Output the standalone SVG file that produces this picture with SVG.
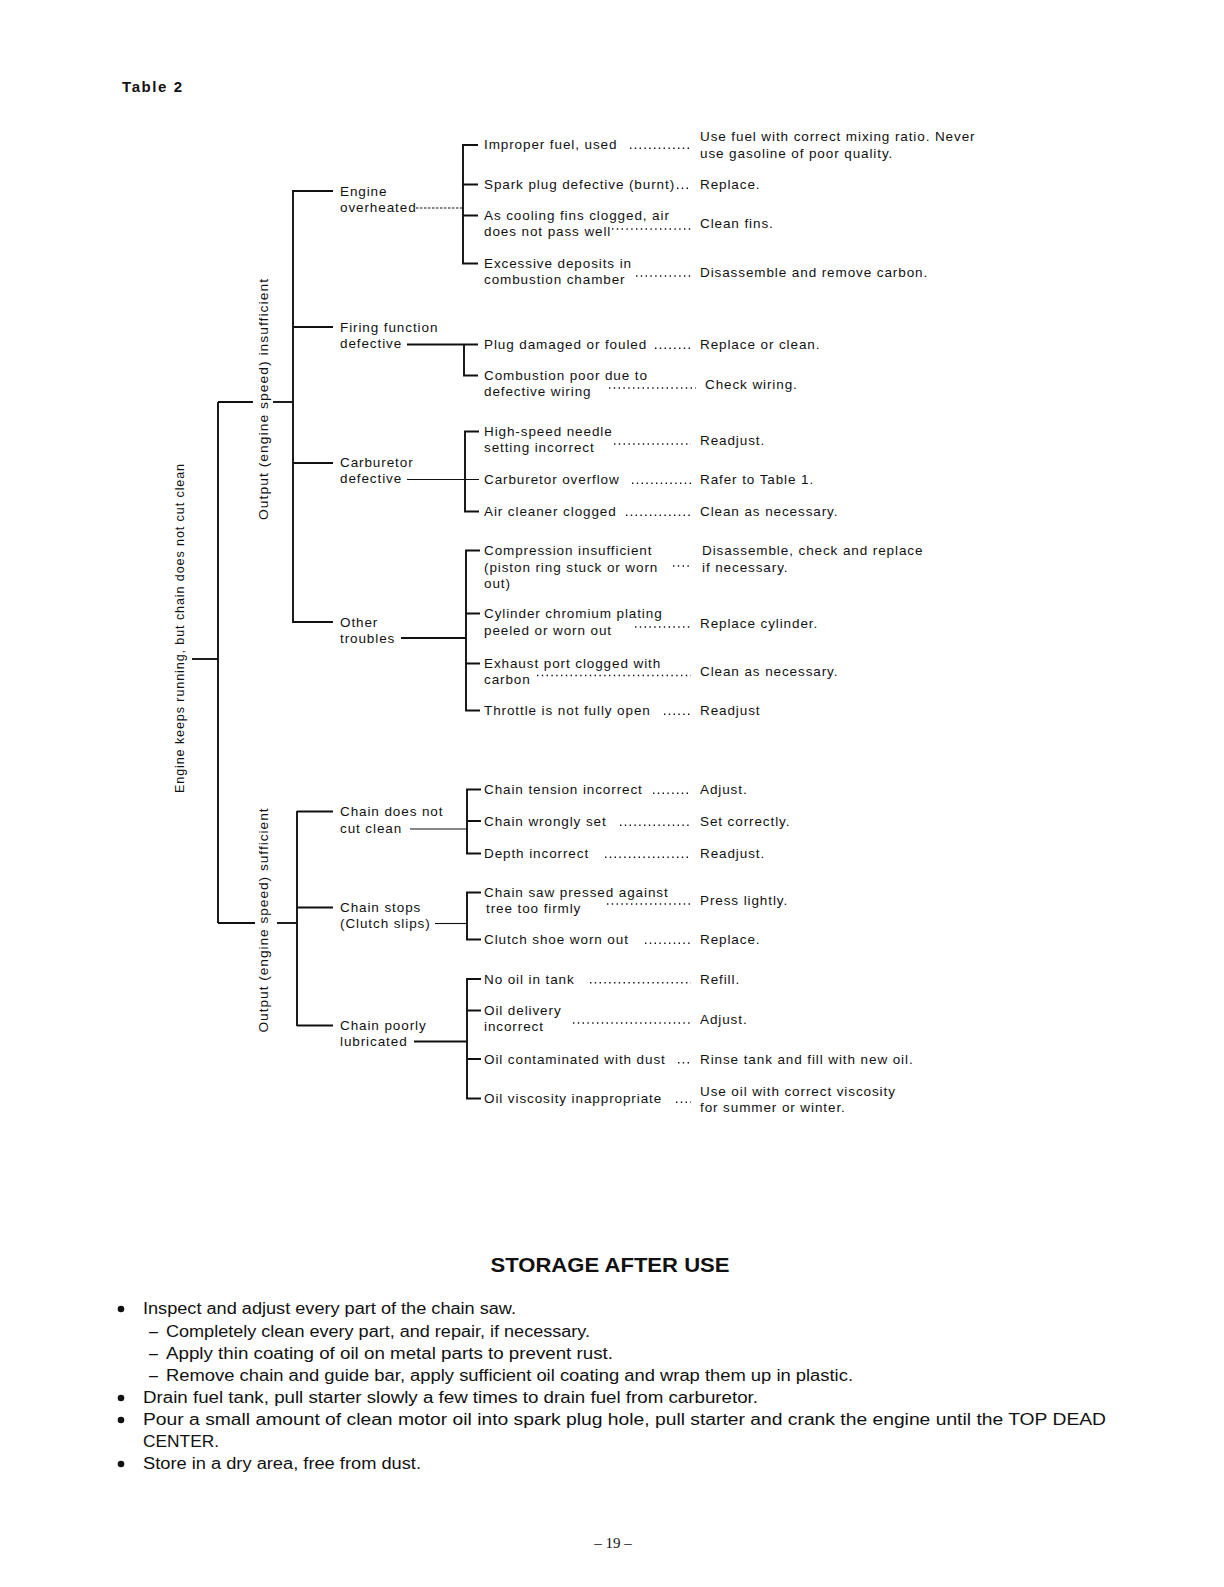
<svg xmlns="http://www.w3.org/2000/svg" width="1224" height="1587" viewBox="0 0 1224 1587">
<style>
.t{font-family:"Liberation Sans",Arial,sans-serif;font-size:13.5px;letter-spacing:0.9px;fill:#111}
.r{font-family:"Liberation Sans",Arial,sans-serif;font-size:13.5px;letter-spacing:1px;fill:#111}
.s{font-family:"Liberation Sans",Arial,sans-serif;font-size:16px;fill:#111}
.h{font-family:"Liberation Sans",Arial,sans-serif;font-size:20px;font-weight:bold;fill:#111}
.ln{stroke:#111;stroke-width:1.9;fill:none}
.th{stroke:#111;stroke-width:1.1;fill:none}
.ds{stroke:#111;stroke-width:1.1;fill:none;stroke-dasharray:2.5 1.5}
.ld{stroke:#111;stroke-width:1.5;fill:none;stroke-dasharray:1.4 3.4}
</style>
<rect width="1224" height="1587" fill="#fff"/>
<text x="122" y="92" font-family="Liberation Sans,Arial,sans-serif" font-size="15" font-weight="bold" fill="#111" textLength="60">Table 2</text>

<g id="connectors">
<line class="ln" x1="192" y1="659" x2="218" y2="659"/>
<line class="ln" x1="218" y1="402" x2="218" y2="923"/>
<line class="ln" x1="218" y1="402" x2="253" y2="402"/>
<line class="ln" x1="273" y1="402" x2="293" y2="402"/>
<line class="ln" x1="218" y1="923" x2="255" y2="923"/>
<line class="ln" x1="277" y1="923" x2="297" y2="923"/>
<line class="ln" x1="293" y1="190" x2="293" y2="623"/>
<line class="ln" x1="293" y1="191" x2="333" y2="191"/>
<line class="ln" x1="293" y1="327" x2="333" y2="327"/>
<line class="ln" x1="293" y1="463" x2="333" y2="463"/>
<line class="ln" x1="293" y1="622" x2="333" y2="622"/>
<line class="ln" x1="297" y1="811" x2="297" y2="1026"/>
<line class="ln" x1="297" y1="811.5" x2="333" y2="811.5"/>
<line class="ln" x1="297" y1="907.5" x2="333" y2="907.5"/>
<line class="ln" x1="297" y1="1025.5" x2="333" y2="1025.5"/>
<line class="ds" x1="416" y1="208" x2="463" y2="208"/>
<line class="ln" x1="407" y1="344.5" x2="478" y2="344.5"/>
<line class="th" x1="407" y1="479.5" x2="479" y2="479.5"/>
<line class="ln" x1="401" y1="638" x2="466" y2="638"/>
<line class="th" x1="410" y1="829" x2="467" y2="829"/>
<line class="th" x1="435" y1="923.5" x2="467" y2="923.5"/>
<line class="ln" x1="414" y1="1041.5" x2="467" y2="1041.5"/>
<path class="ln" d="M478,145 H463 V263.5 H478 M463,184.5 H478 M463,215.5 H478"/>
<path class="ln" d="M464,344.5 V375.5 H478"/>
<path class="ln" d="M479,431.5 H465 V511.5 H479"/>
<path class="ln" d="M480,550.5 H466 V710.5 H480 M466,613.5 H480 M466,663.5 H480"/>
<path class="ln" d="M481,789.5 H467 V853.5 H481 M467,821 H481"/>
<path class="ln" d="M481,892.5 H467 V939.5 H481"/>
<path class="ln" d="M481,979 H467 V1098.5 H481 M467,1010.5 H481 M467,1059 H481"/>
</g>

<g id="leaders">
<line class="ld" x1="630" y1="148.3" x2="691" y2="148.3"/>
<line class="ld" x1="677" y1="188.3" x2="691" y2="188.3"/>
<line class="ld" x1="612" y1="229" x2="691" y2="229"/>
<line class="ld" x1="636" y1="276" x2="691" y2="276"/>
<line class="ld" x1="655" y1="348.3" x2="691" y2="348.3"/>
<line class="ld" x1="609" y1="388" x2="696" y2="388"/>
<line class="ld" x1="614" y1="444" x2="691" y2="444"/>
<line class="ld" x1="632" y1="483.3" x2="691" y2="483.3"/>
<line class="ld" x1="626" y1="515.3" x2="691" y2="515.3"/>
<line class="ld" x1="673" y1="566" x2="691" y2="566"/>
<line class="ld" x1="635" y1="627" x2="691" y2="627"/>
<line class="ld" x1="537" y1="675.5" x2="691" y2="675.5"/>
<line class="ld" x1="664" y1="714.3" x2="691" y2="714.3"/>
<line class="ld" x1="653" y1="793.3" x2="691" y2="793.3"/>
<line class="ld" x1="620" y1="825.3" x2="691" y2="825.3"/>
<line class="ld" x1="605" y1="857.3" x2="691" y2="857.3"/>
<line class="ld" x1="607" y1="904" x2="691" y2="904"/>
<line class="ld" x1="645" y1="943.3" x2="691" y2="943.3"/>
<line class="ld" x1="590" y1="982.8" x2="691" y2="982.8"/>
<line class="ld" x1="573" y1="1023" x2="691" y2="1023"/>
<line class="ld" x1="678" y1="1062.8" x2="691" y2="1062.8"/>
<line class="ld" x1="676" y1="1102.3" x2="691" y2="1102.3"/>
</g>

<g id="root">
<text class="r" transform="translate(183.5,628) rotate(-90)" text-anchor="middle" textLength="330" lengthAdjust="spacingAndGlyphs">Engine keeps running, but chain does not cut clean</text>
</g>
<g id="output-insufficient">
<text class="r" transform="translate(268,399) rotate(-90)" text-anchor="middle" textLength="242" lengthAdjust="spacingAndGlyphs">Output (engine speed) insufficient</text>
</g>
<g id="output-sufficient">
<text class="r" transform="translate(268,920) rotate(-90)" text-anchor="middle" textLength="225" lengthAdjust="spacingAndGlyphs">Output (engine speed) sufficient</text>
</g>

<g id="engine-overheated"><text class="t" x="340" y="196">Engine</text><text class="t" x="340" y="212">overheated</text></g>
<g id="firing-defective"><text class="t" x="340" y="331.5">Firing function</text><text class="t" x="340" y="348">defective</text></g>
<g id="carburetor-defective"><text class="t" x="340" y="467">Carburetor</text><text class="t" x="340" y="483">defective</text></g>
<g id="other-troubles"><text class="t" x="340" y="627">Other</text><text class="t" x="340" y="643">troubles</text></g>
<g id="chain-not-cut"><text class="t" x="340" y="816">Chain does not</text><text class="t" x="340" y="833">cut clean</text></g>
<g id="chain-stops"><text class="t" x="340" y="912">Chain stops</text><text class="t" x="340" y="928">(Clutch slips)</text></g>
<g id="chain-poorly"><text class="t" x="340" y="1030">Chain poorly</text><text class="t" x="340" y="1046">lubricated</text></g>

<g id="i1"><text class="t" x="484" y="149">Improper fuel, used</text><text class="t" x="700" y="141">Use fuel with correct mixing ratio. Never</text><text class="t" x="700" y="158">use gasoline of poor quality.</text></g>
<g id="i2"><text class="t" x="484" y="189">Spark plug defective (burnt)</text><text class="t" x="700" y="189">Replace.</text></g>
<g id="i3"><text class="t" x="484" y="220">As cooling fins clogged, air</text><text class="t" x="484" y="236">does not pass well</text><text class="t" x="700" y="228">Clean fins.</text></g>
<g id="i4"><text class="t" x="484" y="268">Excessive deposits in</text><text class="t" x="484" y="284">combustion chamber</text><text class="t" x="700" y="277">Disassemble and remove carbon.</text></g>
<g id="i5"><text class="t" x="484" y="349">Plug damaged or fouled</text><text class="t" x="700" y="349">Replace or clean.</text></g>
<g id="i6"><text class="t" x="484" y="380">Combustion poor due to</text><text class="t" x="484" y="396">defective wiring</text><text class="t" x="705" y="389">Check wiring.</text></g>
<g id="i7"><text class="t" x="484" y="436">High-speed needle</text><text class="t" x="484" y="452">setting incorrect</text><text class="t" x="700" y="445">Readjust.</text></g>
<g id="i8"><text class="t" x="484" y="484">Carburetor overflow</text><text class="t" x="700" y="484">Rafer to Table 1.</text></g>
<g id="i9"><text class="t" x="484" y="516">Air cleaner clogged</text><text class="t" x="700" y="516">Clean as necessary.</text></g>
<g id="i10"><text class="t" x="484" y="555">Compression insufficient</text><text class="t" x="484" y="571.5">(piston ring stuck or worn</text><text class="t" x="484" y="588">out)</text><text class="t" x="702" y="555">Disassemble, check and replace</text><text class="t" x="702" y="571.5">if necessary.</text></g>
<g id="i11"><text class="t" x="484" y="618">Cylinder chromium plating</text><text class="t" x="484" y="635">peeled or worn out</text><text class="t" x="700" y="628">Replace cylinder.</text></g>
<g id="i12"><text class="t" x="484" y="668">Exhaust port clogged with</text><text class="t" x="484" y="684">carbon</text><text class="t" x="700" y="676">Clean as necessary.</text></g>
<g id="i13"><text class="t" x="484" y="715">Throttle is not fully open</text><text class="t" x="700" y="715">Readjust</text></g>
<g id="i14"><text class="t" x="484" y="794">Chain tension incorrect</text><text class="t" x="700" y="794">Adjust.</text></g>
<g id="i15"><text class="t" x="484" y="826">Chain wrongly set</text><text class="t" x="700" y="826">Set correctly.</text></g>
<g id="i16"><text class="t" x="484" y="858">Depth incorrect</text><text class="t" x="700" y="858">Readjust.</text></g>
<g id="i17"><text class="t" x="484" y="897">Chain saw pressed against</text><text class="t" x="486" y="913">tree too firmly</text><text class="t" x="700" y="905">Press lightly.</text></g>
<g id="i18"><text class="t" x="484" y="944">Clutch shoe worn out</text><text class="t" x="700" y="944">Replace.</text></g>
<g id="i19"><text class="t" x="484" y="983.5">No oil in tank</text><text class="t" x="700" y="983.5">Refill.</text></g>
<g id="i20"><text class="t" x="484" y="1015">Oil delivery</text><text class="t" x="484" y="1031">incorrect</text><text class="t" x="700" y="1024">Adjust.</text></g>
<g id="i21"><text class="t" x="484" y="1063.5">Oil contaminated with dust</text><text class="t" x="700" y="1063.5">Rinse tank and fill with new oil.</text></g>
<g id="i22"><text class="t" x="484" y="1103">Oil viscosity inappropriate</text><text class="t" x="700" y="1096">Use oil with correct viscosity</text><text class="t" x="700" y="1112">for summer or winter.</text></g>

<g id="storage">
<text class="h" x="610" y="1272" text-anchor="middle" textLength="239" lengthAdjust="spacingAndGlyphs">STORAGE AFTER USE</text>
<circle cx="121" cy="1309" r="3.3" fill="#111"/>
<circle cx="121" cy="1398" r="3.3" fill="#111"/>
<circle cx="121" cy="1420" r="3.3" fill="#111"/>
<circle cx="121" cy="1464" r="3.3" fill="#111"/>
<text class="s" x="143" y="1314" textLength="373" lengthAdjust="spacingAndGlyphs">Inspect and adjust every part of the chain saw.</text>
<text class="s" x="149" y="1337">–</text>
<text class="s" x="166" y="1337" textLength="424" lengthAdjust="spacingAndGlyphs">Completely clean every part, and repair, if necessary.</text>
<text class="s" x="149" y="1359">–</text>
<text class="s" x="166" y="1359" textLength="447" lengthAdjust="spacingAndGlyphs">Apply thin coating of oil on metal parts to prevent rust.</text>
<text class="s" x="149" y="1381">–</text>
<text class="s" x="166" y="1381" textLength="687" lengthAdjust="spacingAndGlyphs">Remove chain and guide bar, apply sufficient oil coating and wrap them up in plastic.</text>
<text class="s" x="143" y="1403" textLength="615" lengthAdjust="spacingAndGlyphs">Drain fuel tank, pull starter slowly a few times to drain fuel from carburetor.</text>
<text class="s" x="143" y="1425" textLength="963" lengthAdjust="spacingAndGlyphs">Pour a small amount of clean motor oil into spark plug hole, pull starter and crank the engine until the TOP DEAD</text>
<text class="s" x="143" y="1447" textLength="76" lengthAdjust="spacingAndGlyphs">CENTER.</text>
<text class="s" x="143" y="1469" textLength="278" lengthAdjust="spacingAndGlyphs">Store in a dry area, free from dust.</text>
</g>
<text x="613" y="1548" text-anchor="middle" font-family="Liberation Serif,Times New Roman,serif" font-size="15" fill="#111">– 19 –</text>
</svg>
